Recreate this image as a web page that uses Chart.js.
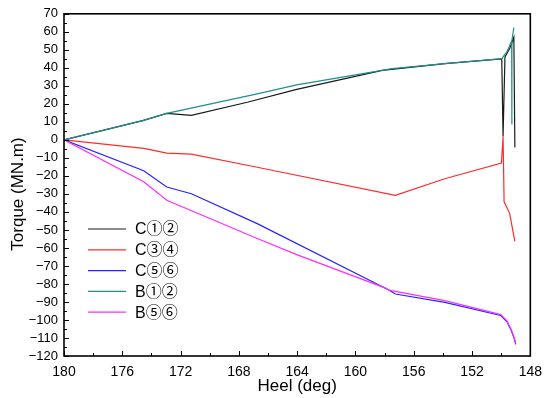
<!doctype html>
<html lang="en">
<head>
	<meta charset="utf-8">
	<title>Torque vs Heel</title>
	<style>
		html, body { margin: 0; padding: 0; background: #fff; }
		#torqueChart { display: block; }
	</style>
</head>
<body>
	<canvas id="torqueChart" width="550" height="398"></canvas>
	<script src="https://cdn.jsdelivr.net/npm/chart.js@4.4.0/dist/chart.umd.min.js"></script>
	<script>
		// values (heel in deg, torque in MN.m)
		var seriesLabels = ["C\u2460\u2461", "C\u2462\u2463", "C\u2464\u2465", "B\u2460\u2461", "B\u2464\u2465"];
		var seriesColors = ["#1a1a1a", "#ff2b2b", "#2424ff", "#1f8f8a", "#ff2bff"];

		var c12Heel = [180, 174.6, 172.95, 171.26, 167.42, 164.03, 158.16, 153.87, 149.96, 149.87, 149.74, 149.4, 149.13, 149.06];
		var c12Torque = [0, 10.7, 14.7, 13.6, 20.9, 28.0, 38.6, 42.3, 45.0, 2.0, 46, 51, 57, -4.3];

		var c34Heel = [180, 174.53, 172.95, 171.26, 166.74, 157.26, 153.87, 149.98, 149.87, 149.8, 149.42, 149.06];
		var c34Torque = [0, -4.7, -7.4, -7.9, -15.2, -30.8, -21.6, -12.9, 2.0, -34.4, -40.8, -56.4];

		var c56Heel = [180, 174.53, 172.95, 171.26, 166.74, 157.71, 157.26, 153.87, 150.03, 149.6, 149.3, 149.1, 149.0];
		var c56Torque = [0, -17.1, -26.2, -29.9, -46.5, -83.4, -85.6, -90.2, -97.5, -101, -106, -110.5, -113.5];

		var b12Heel = [180, 174.6, 172.95, 166.74, 164.03, 157.48, 153.87, 149.96, 149.6, 149.28, 149.27, 149.26, 149.13];
		var b12Torque = [0, 10.7, 14.7, 25.5, 30.5, 39.6, 42.3, 45.1, 49, 55, 8.5, 55, 62.4];

		var b56Heel = [180, 174.53, 172.95, 166.74, 164.03, 157.93, 157.71, 153.87, 150.03, 149.6, 149.3, 149.1, 149.0];
		var b56Torque = [0, -23.3, -33.5, -54.8, -63.7, -82.3, -83.4, -89.3, -97, -100.5, -105.5, -110, -113];

		var heelSeries = [c12Heel, c34Heel, c56Heel, b12Heel, b56Heel];
		var torqueSeries = [c12Torque, c34Torque, c56Torque, b12Torque, b56Torque];

		function toPoints(xs, ys)
		{
			return xs.map(function(x, i) { return { x: x, y: ys[i] }; });
		}

		var datasets = seriesLabels.map(function(label, i)
		{
			return {
				label: label,
				data: toPoints(heelSeries[i], torqueSeries[i]),
				borderColor: seriesColors[i],
				backgroundColor: seriesColors[i],
				borderWidth: 1.2,
				pointRadius: 0,
				tension: 0,
				order: i == 3 ? 0 : (i == 4 ? 1 : i + 2)
			};
		});

		var FONT = "'Liberation Sans', Arial, sans-serif";
		var LEGEND_FONT = "'Liberation Sans', 'Noto Sans CJK SC', sans-serif";

		// frame, inward tick marks, axis titles and the legend inside the plot
		var decorPlugin = {
			id: "decor",
			afterDraw: function(chart)
			{
				var ctx = chart.ctx;
				var area = chart.chartArea;
				var xs = chart.scales.x;
				var ys = chart.scales.y;
				ctx.save();
				ctx.strokeStyle = "#000";
				ctx.lineWidth = 1;
				var v, px, len;
				for (v = 148; v <= 180; v += 2)
				{
					px = Math.round(xs.getPixelForValue(v)) + 0.5;
					len = (v % 4 == 0) ? 5 : 3;
					ctx.beginPath();
					ctx.moveTo(px, area.bottom);
					ctx.lineTo(px, area.bottom - len);
					ctx.stroke();
				}
				for (v = -120; v <= 70; v += 5)
				{
					px = Math.round(ys.getPixelForValue(v)) + 0.5;
					len = (v % 10 == 0) ? 5 : 3;
					ctx.beginPath();
					ctx.moveTo(area.left, px);
					ctx.lineTo(area.left + len, px);
					ctx.stroke();
				}
				ctx.lineWidth = 1.6;
				ctx.strokeRect(area.left, area.top, area.right - area.left, area.bottom - area.top);

				// axis titles
				ctx.fillStyle = "#000";
				ctx.font = "17px " + FONT;
				ctx.textAlign = "center";
				ctx.textBaseline = "middle";
				ctx.fillText("Heel (deg)", (area.left + area.right) / 2, 386);
				ctx.save();
				ctx.translate(18, 194);
				ctx.rotate(-Math.PI / 2);
				ctx.fillText("Torque (MN.m)", 0, 0);
				ctx.restore();

				// legend
				ctx.font = "16px " + LEGEND_FONT;
				ctx.textAlign = "left";
				chart.data.datasets.forEach(function(ds, i)
				{
					var y = 229 + i * 20.8;
					ctx.strokeStyle = ds.borderColor;
					ctx.lineWidth = 1.2;
					ctx.beginPath();
					ctx.moveTo(88, y);
					ctx.lineTo(126, y);
					ctx.stroke();
					ctx.fillStyle = "#000";
					ctx.fillText(ds.label, 135, y + 1);
				});
				ctx.restore();
			}
		};

		var torqueChart = new Chart("torqueChart", {
			type: "line",
			data: { datasets: datasets },
			options: {
				responsive: false,
				animation: false,
				layout: { padding: { top: 10, right: 13, left: 0, bottom: 0 } },
				plugins: {
					legend: { display: false },
					tooltip: { enabled: false }
				},
				scales: {
					x: {
						type: "linear",
						reverse: true,
						min: 148,
						max: 180,
						grid: { display: false, drawTicks: false },
						border: { display: false },
						ticks: {
							stepSize: 4,
							padding: 8,
							color: "#000",
							maxRotation: 0,
							autoSkip: false,
							font: { family: FONT, size: 14 }
						},
						afterFit: function(scale) { scale.height = 42; }
					},
					y: {
						min: -120,
						max: 70,
						grid: { display: false, drawTicks: false },
						border: { display: false },
						ticks: {
							stepSize: 10,
							padding: 6,
							color: "#000",
							autoSkip: false,
							font: { family: FONT, size: 13 },
							callback: function(value) { return value < 0 ? "\u2212" + Math.abs(value) : String(value); }
						},
						afterFit: function(scale) { scale.width = 64; }
					}
				}
			},
			plugins: [decorPlugin]
		});
	</script>
</body>
</html>
